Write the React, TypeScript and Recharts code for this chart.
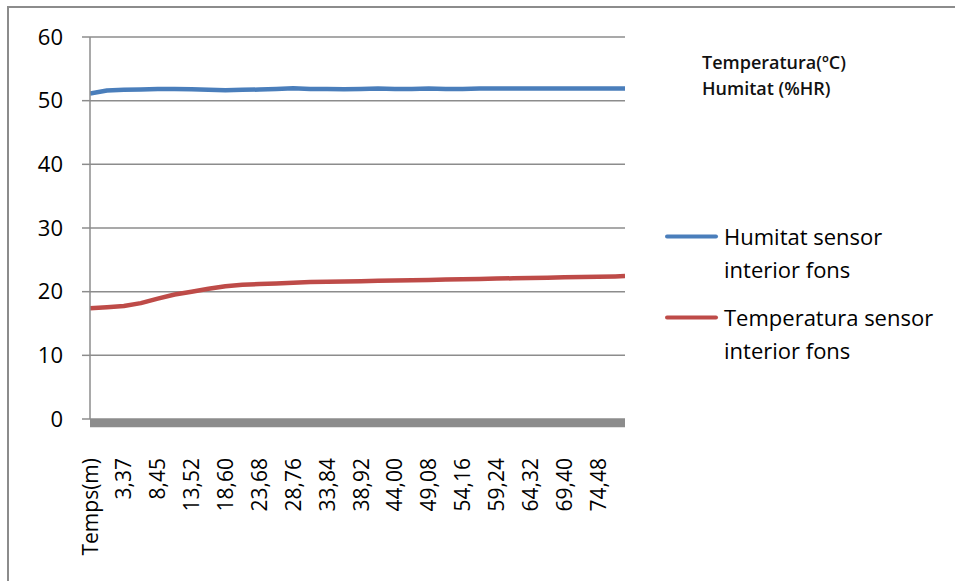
import React from 'react';
import { LineChart, Line, XAxis, YAxis, CartesianGrid, Legend, ReferenceArea } from 'recharts';

const timeMinutes = [
  -1.71, 0.83, 3.37, 5.91, 8.45, 10.99, 13.52, 16.06, 18.6, 21.14, 23.68, 26.22, 28.76,
  31.3, 33.84, 36.38, 38.92, 41.46, 44.0, 46.54, 49.08, 51.62, 54.16, 56.7, 59.24, 61.78,
  64.32, 66.86, 69.4, 71.94, 74.48, 77.02, 78.5,
];
const humitat = [
  51.1, 51.6, 51.7, 51.75, 51.85, 51.85, 51.8, 51.7, 51.65, 51.7, 51.75, 51.85, 51.95,
  51.85, 51.85, 51.8, 51.85, 51.9, 51.85, 51.85, 51.9, 51.85, 51.85, 51.9, 51.9, 51.9,
  51.9, 51.9, 51.9, 51.9, 51.9, 51.9, 51.9,
];
const temperatura = [
  17.4, 17.55, 17.75, 18.2, 18.9, 19.55, 20.0, 20.45, 20.85, 21.1, 21.2, 21.3, 21.4,
  21.5, 21.55, 21.6, 21.65, 21.7, 21.75, 21.8, 21.85, 21.9, 21.95, 22.0, 22.05, 22.1,
  22.15, 22.2, 22.25, 22.3, 22.35, 22.4, 22.45,
];
const xTickValues = [
  -1.71, 3.37, 8.45, 13.52, 18.6, 23.68, 28.76, 33.84, 38.92, 44.0, 49.08, 54.16, 59.24,
  64.32, 69.4, 74.48,
];
const xTickLabels = [
  'Temps(m)', '3,37', '8,45', '13,52', '18,60', '23,68', '28,76', '33,84', '38,92', '44,00',
  '49,08', '54,16', '59,24', '64,32', '69,40', '74,48',
];
const yTicks = [0, 10, 20, 30, 40, 50, 60];
const seriesNames = ['Humitat sensor interior fons', 'Temperatura sensor interior fons'];
const unitNotes = ['Temperatura(ºC)', 'Humitat (%HR)'];

const data = timeMinutes.map((t, i) => ({ t, humitat: humitat[i], temperatura: temperatura[i] }));

const FONT = '"Open Sans", "Noto Sans", sans-serif';
const GRAY = '#8c8c8c';

const RotTick = (props: any) => {
  const { x, y, payload } = props;
  const idx = xTickValues.indexOf(payload.value);
  const label = idx >= 0 ? xTickLabels[idx] : '';
  return (
    <text
      transform={`translate(${x},${y}) rotate(-90)`}
      textAnchor="end"
      dy="0.36em"
      fontSize={21}
      fontFamily={FONT}
      fill="#000"
    >
      {label}
    </text>
  );
};

const renderLegend = (props: any) => {
  const { payload } = props;
  return (
    <div style={{ fontFamily: FONT, width: 290 }}>
      {(payload || []).map((entry: any, i: number) => (
        <div key={i} style={{ display: 'flex', alignItems: 'flex-start', marginBottom: 15 }}>
          <svg width={59} height={33} style={{ flex: 'none' }}>
            <line x1={2} y1={16.5} x2={51} y2={16.5} stroke={entry.color} strokeWidth={4} strokeLinecap="round" />
          </svg>
          <div style={{ fontSize: 22, lineHeight: '33px', color: '#000', width: 222 }}>{entry.value}</div>
        </div>
      ))}
    </div>
  );
};

export default function App() {
  return (
    <div style={{ position: 'absolute', left: 0, top: 0, width: 955, height: 581, overflow: 'hidden', background: '#fff' }}>
      <div
        style={{
          position: 'absolute',
          left: 7,
          top: 6,
          width: 1000,
          height: 700,
          borderLeft: `2px solid ${GRAY}`,
          borderTop: `2px solid ${GRAY}`,
        }}
      />
      <div style={{ position: 'absolute', left: 0, top: 0 }}>
        <LineChart width={955} height={581} data={data} margin={{ top: 37, right: 40, bottom: 0, left: 0 }}>
          <CartesianGrid horizontal vertical={false} stroke={GRAY} strokeWidth={1.5} />
          <XAxis
            dataKey="t"
            type="number"
            domain={[-1.71, 78.5]}
            ticks={xTickValues}
            interval={0}
            allowDataOverflow
            tick={<RotTick />}
            tickLine={false}
            axisLine={false}
            tickSize={0}
            tickMargin={39}
            height={162}
          />
          <YAxis
            domain={[0, 60]}
            ticks={yTicks}
            interval={0}
            width={90}
            tickSize={8}
            tickMargin={19}
            axisLine={{ stroke: GRAY, strokeWidth: 1.5 }}
            tickLine={{ stroke: GRAY, strokeWidth: 1.5 }}
            tick={{ fontSize: 22, fontFamily: FONT, fill: '#000' }}
          />
          <ReferenceArea y1={-1.3} y2={0} ifOverflow="visible" fill={GRAY} fillOpacity={1} stroke="none" />
          <Line
            type="linear"
            dataKey="humitat"
            name={seriesNames[0]}
            stroke="#4a7ebb"
            strokeWidth={4.5}
            dot={false}
            activeDot={false}
            isAnimationActive={false}
            strokeLinejoin="round"
          />
          <Line
            type="linear"
            dataKey="temperatura"
            name={seriesNames[1]}
            stroke="#be4b48"
            strokeWidth={4.5}
            dot={false}
            activeDot={false}
            isAnimationActive={false}
            strokeLinejoin="round"
          />
          <Legend
            layout="vertical"
            align="right"
            verticalAlign="middle"
            content={renderLegend}
            wrapperStyle={{ position: 'absolute', left: 665, top: 220, width: 290 }}
          />
        </LineChart>
      </div>
      <div
        style={{
          position: 'absolute',
          left: 702,
          top: 49,
          fontFamily: FONT,
          fontSize: 18,
          fontWeight: 600,
          lineHeight: '26px',
          color: '#111',
          whiteSpace: 'nowrap',
        }}
      >
        {unitNotes.map((n, i) => (
          <div key={i}>{n}</div>
        ))}
      </div>
    </div>
  );
}
